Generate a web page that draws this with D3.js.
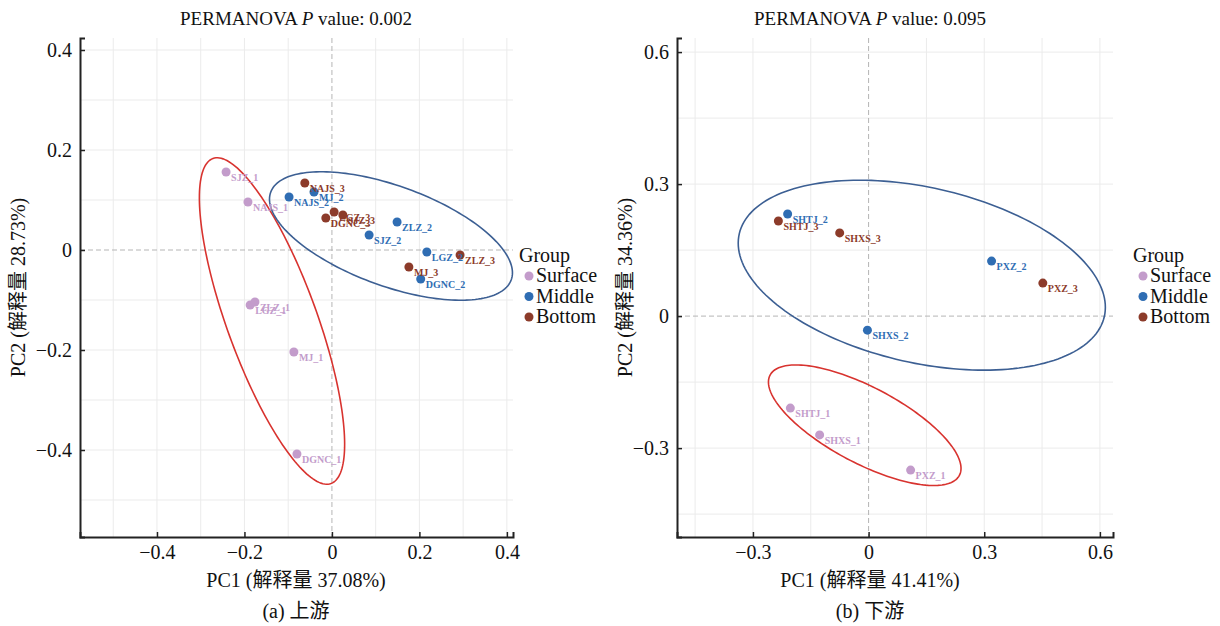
<!DOCTYPE html>
<html>
<head>
<meta charset="utf-8">
<script src="https://cdn.jsdelivr.net/npm/d3@7"></script>
<style>
  body { margin: 0; background: #fff; }
</style>
</head>
<body>
<svg id="chart" width="1220" height="626"></svg>
<script>
const groups = ["Surface", "Middle", "Bottom"];

// upstream (a)
const upSamples = [
  { id: "SJZ_1", group: "Surface", pc1: -0.242, pc2: 0.156 },
  { id: "NAJS_1", group: "Surface", pc1: -0.192, pc2: 0.096 },
  { id: "LGZ_1", group: "Surface", pc1: -0.187, pc2: -0.110 },
  { id: "ZLZ_1", group: "Surface", pc1: -0.176, pc2: -0.104 },
  { id: "MJ_1", group: "Surface", pc1: -0.087, pc2: -0.204 },
  { id: "DGNC_1", group: "Surface", pc1: -0.080, pc2: -0.408 },
  { id: "NAJS_2", group: "Middle", pc1: -0.098, pc2: 0.106 },
  { id: "MJ_2", group: "Middle", pc1: -0.041, pc2: 0.116 },
  { id: "SJZ_2", group: "Middle", pc1: 0.085, pc2: 0.030 },
  { id: "ZLZ_2", group: "Middle", pc1: 0.149, pc2: 0.056 },
  { id: "LGZ_2", group: "Middle", pc1: 0.217, pc2: -0.004 },
  { id: "DGNC_2", group: "Middle", pc1: 0.203, pc2: -0.058 },
  { id: "NAJS_3", group: "Bottom", pc1: -0.062, pc2: 0.134 },
  { id: "DGNC_3", group: "Bottom", pc1: -0.014, pc2: 0.064 },
  { id: "LGZ_3", group: "Bottom", pc1: 0.005, pc2: 0.076 },
  { id: "SJZ_3", group: "Bottom", pc1: 0.025, pc2: 0.070 },
  { id: "MJ_3", group: "Bottom", pc1: 0.176, pc2: -0.034 },
  { id: "ZLZ_3", group: "Bottom", pc1: 0.293, pc2: -0.010 },
];
// ellipse: centre + two semi-axis vectors, data units
const upEllipses = [
  { group: "Surface", cx: -0.137, cy: -0.142, ax: 0.135, ay: -0.325, bx: -0.0967, by: -0.0307 },
  { group: "Middle", cx: 0.135, cy: 0.028, ax: 0.275, ay: -0.0876, bx: -0.039, by: -0.094 },
];

// downstream (b)
const downSamples = [
  { id: "SHTJ_1", group: "Surface", pc1: -0.203, pc2: -0.209 },
  { id: "SHXS_1", group: "Surface", pc1: -0.127, pc2: -0.270 },
  { id: "PXZ_1", group: "Surface", pc1: 0.109, pc2: -0.350 },
  { id: "SHTJ_2", group: "Middle", pc1: -0.210, pc2: 0.232 },
  { id: "SHXS_2", group: "Middle", pc1: -0.003, pc2: -0.032 },
  { id: "PXZ_2", group: "Middle", pc1: 0.319, pc2: 0.125 },
  { id: "SHTJ_3", group: "Bottom", pc1: -0.234, pc2: 0.216 },
  { id: "SHXS_3", group: "Bottom", pc1: -0.075, pc2: 0.189 },
  { id: "PXZ_3", group: "Bottom", pc1: 0.452, pc2: 0.075 },
];
const downEllipses = [
  { group: "Surface", cx: -0.010, cy: -0.248, ax: 0.2455, ay: -0.114, bx: -0.046, by: -0.076 },
  { group: "Middle", cx: 0.138, cy: 0.093, ax: 0.4735, ay: -0.094, bx: -0.0504, by: -0.1943 },
];

const upTicks = [-0.4, -0.2, 0, 0.2, 0.4];
const upMinor = [-0.5, -0.3, -0.1, 0.1, 0.3];
const downTicks = [-0.3, 0, 0.3, 0.6];
const downMinor = [-0.45, -0.15, 0.15, 0.45];

const FONT = '"Liberation Serif", "Times New Roman", Times, "DejaVu Serif", "Noto Sans CJK SC", serif';
const color = d3.scaleOrdinal().domain(groups).range(["#c39ccb", "#2f6db3", "#8c3b2a"]);
const ellipseColor = d3.scaleOrdinal().domain(groups).range(["#d8332f", "#3c5f93", "#8c3b2a"]);

const svg = d3.select("#chart");
const fmt = (d) => (d === 0 ? "0" : d3.format(".1f")(d));

function txt(sel, size) {
  return sel.attr("font-family", FONT).style("font-family", FONT)
    .attr("font-size", size).attr("fill", "#111");
}

function panel(o) {
  const x = d3.scaleLinear().domain(o.xDomain).range([o.left, o.right]);
  const y = d3.scaleLinear().domain(o.yDomain).range([o.bottom, o.top]);
  const g = svg.append("g");

  // grid
  const grid = g.append("g").attr("stroke", "#ebebeb").attr("stroke-width", 1);
  grid.selectAll(".vx").data(o.ticks.concat(o.minor).filter((d) => d !== 0))
    .join("line").attr("x1", (d) => x(d)).attr("x2", (d) => x(d)).attr("y1", o.top).attr("y2", o.bottom);
  grid.selectAll(".hy").data(o.yTicks.concat(o.yMinor).filter((d) => d !== 0))
    .join("line").attr("class", "hy").attr("y1", (d) => y(d)).attr("y2", (d) => y(d)).attr("x1", o.left).attr("x2", o.right);
  // zero lines
  g.append("line").attr("x1", x(0)).attr("x2", x(0)).attr("y1", o.top).attr("y2", o.bottom)
    .attr("stroke", "#b5b5b5").attr("stroke-dasharray", "5,3");
  g.append("line").attr("y1", y(0)).attr("y2", y(0)).attr("x1", o.left).attr("x2", o.right)
    .attr("stroke", "#b5b5b5").attr("stroke-dasharray", "5,3");

  // ellipses
  const line = d3.line().x((d) => x(d[0])).y((d) => y(d[1]));
  o.ellipses.forEach((e) => {
    const pts = d3.range(0, 2 * Math.PI + 0.01, Math.PI / 90).map((t) => [
      e.cx + e.ax * Math.cos(t) + e.bx * Math.sin(t),
      e.cy + e.ay * Math.cos(t) + e.by * Math.sin(t),
    ]);
    g.append("path").attr("d", line(pts)).attr("fill", "none")
      .attr("stroke", ellipseColor(e.group)).attr("stroke-width", 1.6);
  });

  // points
  g.selectAll("circle.pt").data(o.samples).join("circle")
    .attr("cx", (d) => x(d.pc1)).attr("cy", (d) => y(d.pc2)).attr("r", 4.5)
    .attr("fill", (d) => color(d.group));
  txt(g.selectAll("text.lb").data(o.samples).join("text"), 10)
    .attr("x", (d) => x(d.pc1) + 5).attr("y", (d) => y(d.pc2) + 9)
    .attr("font-weight", "bold")
    .attr("fill", (d) => color(d.group)).text((d) => d.id);

  // axes
  const xa = g.append("g").attr("transform", `translate(0,${o.bottom})`)
    .call(d3.axisBottom(x).tickValues(o.ticks).tickFormat(fmt).tickSize(-5).tickPadding(8));
  const ya = g.append("g").attr("transform", `translate(${o.left},0)`)
    .call(d3.axisLeft(y).tickValues(o.yTicks).tickFormat(fmt).tickSize(-5).tickPadding(8));
  [xa, ya].forEach((a) => {
    a.attr("font-family", null).attr("font-size", null);
    a.select(".domain").attr("stroke", "#222").attr("stroke-width", 2);
    a.selectAll(".tick line").attr("stroke", "#222").attr("stroke-width", 1.5);
    txt(a.selectAll(".tick text"), 20);
  });

  // titles
  const t = txt(g.append("text"), 19).attr("x", o.cx).attr("y", 25).attr("text-anchor", "middle");
  t.append("tspan").text("PERMANOVA ");
  t.append("tspan").attr("font-style", "italic").text("P");
  t.append("tspan").text(" value: " + o.p);
  txt(g.append("text"), 20).attr("x", o.cx).attr("y", 587).attr("text-anchor", "middle").text(o.xTitle);
  txt(g.append("text"), 20).attr("x", o.cx).attr("y", 618).attr("text-anchor", "middle").text(o.caption);
  txt(g.append("text"), 20)
    .attr("transform", `translate(${o.yTitleX},${(o.top + o.bottom) / 2}) rotate(-90)`)
    .attr("text-anchor", "middle").text(o.yTitle);

  // legend
  const lg = g.append("g").attr("transform", `translate(${o.legendX},0)`);
  txt(lg.append("text"), 20).attr("x", 0).attr("y", 262).text("Group");
  const it = lg.selectAll("g.it").data(groups).join("g")
    .attr("transform", (d, i) => `translate(0,${282 + i * 20.5})`);
  it.append("circle").attr("cx", 10).attr("cy", -6).attr("r", 4.5).attr("fill", (d) => color(d));
  txt(it.append("text"), 20).attr("x", 17).attr("y", 0).text((d) => d);
}

panel({
  samples: upSamples, ellipses: upEllipses,
  xDomain: [-0.576, 0.414], yDomain: [-0.574, 0.424],
  left: 80, right: 513, top: 38, bottom: 537,
  ticks: upTicks, minor: upMinor, yTicks: upTicks, yMinor: upMinor,
  cx: 296, p: "0.002", xTitle: "PC1 (解释量 37.08%)", yTitle: "PC2 (解释量 28.73%)",
  caption: "(a) 上游", yTitleX: 25, legendX: 519,
});
panel({
  samples: downSamples, ellipses: downEllipses,
  xDomain: [-0.497, 0.634], yDomain: [-0.502, 0.632],
  left: 677, right: 1113, top: 38, bottom: 537,
  ticks: downTicks, minor: downMinor, yTicks: downTicks, yMinor: downMinor,
  cx: 870, p: "0.095", xTitle: "PC1 (解释量 41.41%)", yTitle: "PC2 (解释量 34.36%)",
  caption: "(b) 下游", yTitleX: 632, legendX: 1133,
});
</script>
</body>
</html>
